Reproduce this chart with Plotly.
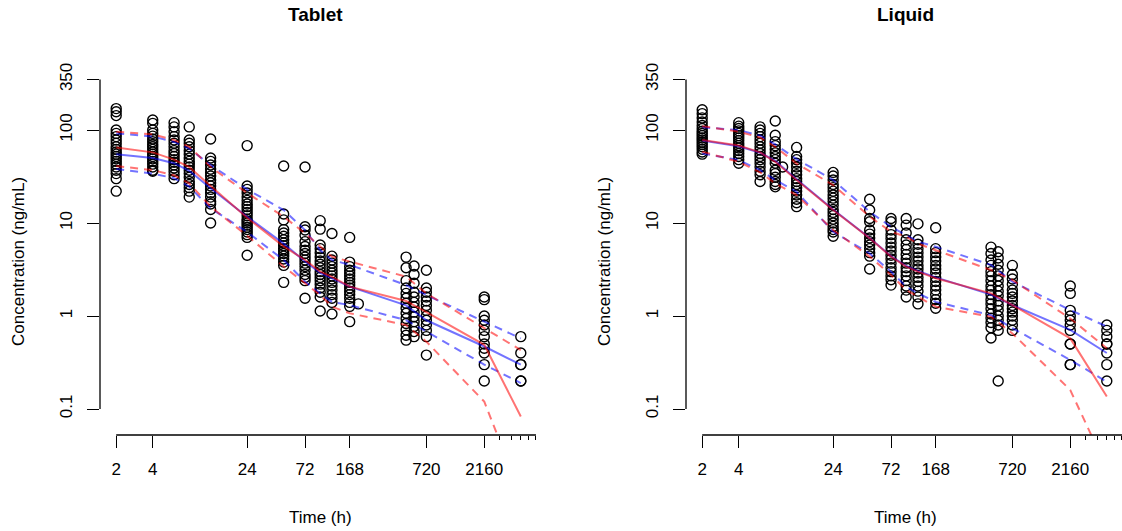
import math
import plotly.graph_objects as go

# ---------------- Data ----------------
# Tablet: observed concentrations (ng/mL) per sampling time (h)
tablet_obs_time = [2, 4, 6, 8, 12, 24, 48, 72, 96, 120, 168, 198, 490, 570, 720, 2160, 4320]
tablet_obs_conc = [
    [170, 157, 143, 100, 92, 85, 78, 72, 66, 62, 58, 55, 52, 49, 46, 43, 40, 37, 34, 30, 22],
    [128, 118, 100, 92, 86, 80, 75, 70, 66, 62, 58, 55, 52, 49, 46, 43, 40, 37, 36],
    [120, 108, 96, 85, 78, 72, 66, 60, 56, 52, 48, 45, 42, 39, 36, 33, 30],
    [108, 78, 72, 66, 60, 55, 50, 46, 43, 40, 37, 34, 31, 28, 26, 24, 22, 19],
    [80, 50, 46, 42, 38, 35, 32, 29, 27, 25, 23, 21, 19, 17, 16, 14, 10],
    [68, 25, 23, 21, 19, 17.5, 16, 15, 14, 13, 12, 11, 10.5, 10, 9.5, 9, 8.5, 8, 7.5, 7, 4.5],
    [41, 12.5, 10.8, 8.5, 7.8, 7.2, 6.6, 6.1, 5.7, 5.3, 5, 4.7, 4.4, 4.1, 3.8, 3.5, 2.3],
    [40, 9.1, 8.4, 7.4, 6.3, 5.6, 5.1, 4.7, 4.3, 4, 3.7, 3.4, 3.1, 2.8, 2.6, 2.4, 1.55],
    [10.6, 8.6, 5.8, 5.3, 4.8, 4.3, 3.9, 3.6, 3.3, 3, 2.8, 2.6, 2.4, 2.2, 2, 1.8, 1.6, 1.13],
    [7.7, 4.4, 4, 3.7, 3.4, 3.1, 2.9, 2.7, 2.5, 2.3, 2.1, 1.9, 1.7, 1.55, 1.4, 1.05],
    [7, 3.8, 3.4, 3.1, 2.9, 2.7, 2.5, 2.3, 2.15, 2, 1.85, 1.7, 1.55, 1.4, 1.27, 0.87],
    [1.35],
    [4.3, 3.3, 2.4, 2.0, 1.75, 1.55, 1.37, 1.21, 1.07, 0.94, 0.83, 0.71, 0.62, 0.55],
    [3.45, 2.8, 2.25, 1.8, 1.6, 1.4, 1.25, 1.1, 0.98, 0.87, 0.77, 0.68, 0.6],
    [3.1, 2.0, 1.8, 1.6, 1.45, 1.3, 1.15, 1.0, 0.9, 0.8, 0.7, 0.6, 0.38],
    [1.6, 1.5, 1.0, 0.9, 0.8, 0.7, 0.6, 0.5, 0.45, 0.4, 0.3, 0.2],
    [0.6, 0.4, 0.3, 0.3, 0.2, 0.2],
]

# Liquid: observed concentrations
liquid_obs_time = [2, 4, 6, 8, 9.2, 12, 24, 48, 72, 96, 120, 168, 480, 550, 720, 2160, 4320]
liquid_obs_conc = [
    [165, 150, 135, 122, 112, 104, 97, 92, 87, 82, 78, 74, 70, 66, 62, 58, 55],
    [120, 110, 104, 98, 92, 87, 82, 77, 72, 68, 64, 60, 56, 52, 48, 44],
    [108, 100, 92, 85, 78, 72, 66, 61, 56, 52, 48, 44, 40, 36, 33, 28],
    [125, 88, 75, 68, 62, 57, 52, 48, 44, 37, 34, 31, 28, 26, 24.5],
    [40],
    [65, 52, 48, 44, 40, 36, 33, 30, 28, 26, 24, 22, 20, 18, 16.5, 15],
    [35, 32, 29, 26, 24, 22, 20, 18.5, 17, 15.5, 14, 13, 12, 11, 10, 9.2, 8.5, 8, 7.2],
    [18, 13.8, 11.2, 10.3, 8.4, 7.6, 6.9, 6.3, 5.8, 5.3, 4.8, 4.4, 3.2],
    [11.2, 10.3, 8.4, 7.5, 6.8, 6.1, 5.5, 5.0, 4.5, 4.1, 3.7, 3.3, 3.0, 2.7, 2.45, 2.15],
    [11.2, 9.5, 7.8, 6.6, 5.8, 5.2, 4.6, 4.1, 3.7, 3.3, 3.0, 2.7, 2.4, 2.1, 1.9, 1.6],
    [9.8, 6.6, 5.9, 5.3, 4.8, 4.3, 3.9, 3.5, 3.2, 2.9, 2.6, 2.35, 2.1, 1.85, 1.6, 1.35],
    [8.9, 5.3, 4.8, 4.3, 3.9, 3.5, 3.2, 2.9, 2.6, 2.35, 2.1, 1.9, 1.7, 1.5, 1.37, 1.21],
    [5.5, 4.7, 4.0, 3.5, 3.0, 2.7, 2.4, 2.1, 1.9, 1.7, 1.5, 1.35, 1.2, 1.05, 0.95, 0.85, 0.75, 0.58],
    [4.9, 4.2, 3.6, 3.1, 2.7, 2.4, 2.1, 1.85, 1.65, 1.45, 1.3, 1.15, 1.0, 0.9, 0.8, 0.7, 0.2],
    [3.5, 2.8, 2.5, 2.2, 1.9, 1.75, 1.6, 1.45, 1.3, 1.2, 1.1, 1.0, 0.9, 0.8, 0.7],
    [2.1, 1.75, 1.15, 1.0, 0.9, 0.8, 0.7, 0.5, 0.5, 0.3, 0.3],
    [0.8, 0.7, 0.6, 0.5, 0.5, 0.4, 0.3, 0.2],
]

# Summary curves (median and 5th/95th percentiles)
tablet_line_time = [2, 4, 6, 8, 12, 24, 48, 72, 96, 120, 168, 490, 720, 2160, 4320]
tablet_obs_med = [65, 57.5, 48, 40, 25, 11.4, 5.6, 4.0, 3.0, 2.64, 2.07, 1.45, 1.1, 0.49, 0.083]
tablet_pred_med = [55, 50, 44, 36.5, 23.6, 11.7, 6.0, 3.85, 2.9, 2.55, 2.07, 1.3, 0.9, 0.47, 0.30]
tablet_obs_hi = [96, 90, 78, 66, 40, 21, 11.7, 7.75, 5.6, 4.35, 3.85, 2.65, 1.75, 0.74, 0.43]
tablet_pred_hi = [92, 85, 74.5, 63, 42, 23, 13.8, 8.4, 5.1, 4.0, 3.55, 2.15, 1.68, 0.87, 0.575]
tablet_obs_lo = [41, 37, 32.6, 26.7, 15, 7.3, 3.4, 2.24, 1.68, 1.26, 1.07, 0.8, 0.53, 0.12, 0.012]
tablet_pred_lo = [38, 34, 30.3, 24.6, 14.4, 8.0, 4.0, 2.34, 1.75, 1.42, 1.31, 0.9, 0.68, 0.30, 0.19]

liquid_line_time = [2, 4, 6, 8, 12, 24, 48, 72, 96, 120, 168, 480, 720, 2160, 4320]
liquid_obs_med = [78, 68, 57.5, 45.5, 29, 13.8, 6.85, 4.35, 3.4, 3.0, 2.55, 1.75, 1.31, 0.575, 0.136]
liquid_pred_med = [77, 67, 57, 46.5, 29.5, 14.0, 6.9, 4.4, 3.45, 3.05, 2.6, 1.7, 1.31, 0.71, 0.40]
liquid_obs_hi = [110, 96, 83, 66, 43.6, 25.6, 11.7, 8.06, 7.1, 6.0, 5.1, 3.12, 2.44, 0.94, 0.45]
liquid_pred_hi = [107, 100, 87, 70, 48.6, 29, 13.2, 9.1, 7.4, 6.3, 5.56, 3.54, 2.34, 1.16, 0.77]
liquid_obs_lo = [58.5, 45.5, 35, 26.7, 20, 8.4, 4.35, 2.76, 1.9, 1.61, 1.26, 0.98, 0.65, 0.16, 0.023]
liquid_pred_lo = [56, 47.6, 37, 29, 21.7, 8.06, 4.7, 3.0, 2.07, 1.75, 1.42, 1.02, 0.74, 0.337, 0.196]

x_tick_vals = [2, 4, 24, 72, 168, 720, 2160]
x_tick_text = ["2", "4", "24", "72", "168", "720", "2160"]
x_minor_vals = [2880, 3600, 4320, 5040, 5760]
y_tick_vals = [0.1, 1, 10, 100, 350]
y_tick_text = ["0.1", "1", "10", "100", "350"]
panel_titles = ["Tablet", "Liquid"]

# ---------------- Styling / layout constants ----------------
W, H = 1122, 531
FONT = "Liberation Sans, Arial, sans-serif"
RED = "rgba(255,0,0,0.55)"
BLUE = "rgba(0,0,255,0.55)"
DASH = "8px,6px"
TXT = 17

# pixel geometry of the two plot regions
panels = [
    dict(left=100, right=537),
    dict(left=686, right=1122),
]
top_px, bottom_px = 60, 435
xr0 = math.log10(2) - 0.1335
px_per_dec_x = (537 - 100) / (math.log10(4320) + 0.1335 - xr0)
y_lo = -1.2796
y_hi = 2.753

fig = go.Figure()

datasets = [
    (tablet_obs_time, tablet_obs_conc, tablet_line_time,
     tablet_obs_med, tablet_pred_med, tablet_obs_hi, tablet_pred_hi, tablet_obs_lo, tablet_pred_lo),
    (liquid_obs_time, liquid_obs_conc, liquid_line_time,
     liquid_obs_med, liquid_pred_med, liquid_obs_hi, liquid_pred_hi, liquid_obs_lo, liquid_pred_lo),
]

for i, (ot, oc, lt, om, pm, oh, ph, ol, pl) in enumerate(datasets):
    xa = "x" if i == 0 else "x2"
    ya = "y" if i == 0 else "y2"
    xs, ys = [], []
    for t, vals in zip(ot, oc):
        xs += [t] * len(vals)
        ys += vals
    fig.add_trace(go.Scatter(
        x=xs, y=ys, mode="markers", xaxis=xa, yaxis=ya, showlegend=False,
        marker=dict(symbol="circle-open", size=10, color="black", line=dict(width=1.4, color="black")),
    ))
    for vals, col, dash in [(ph, BLUE, DASH), (pl, BLUE, DASH), (pm, BLUE, "solid"),
                            (oh, RED, DASH), (ol, RED, DASH), (om, RED, "solid")]:
        fig.add_trace(go.Scatter(
            x=lt, y=vals, mode="lines", xaxis=xa, yaxis=ya, showlegend=False,
            line=dict(color=col, width=2, dash=dash),
        ))

axis_common = dict(showgrid=False, zeroline=False, showline=False, ticks="outside",
                   ticklen=12, tickwidth=1.3, tickcolor="black",
                   tickfont=dict(family=FONT, size=TXT, color="black"))

for i, p in enumerate(panels):
    sfx = "" if i == 0 else "2"
    x_right_val = xr0 + (p["right"] - p["left"]) / px_per_dec_x
    fig.layout["xaxis" + sfx] = dict(
        type="log", range=[xr0, x_right_val], domain=[p["left"] / W, p["right"] / W],
        anchor="y" + sfx, tickmode="array", tickvals=x_tick_vals, ticktext=x_tick_text,
        ticklabelstandoff=7,
        minor=dict(tickmode="array", tickvals=x_minor_vals, ticks="outside", ticklen=4,
                   tickwidth=1.3, tickcolor="black", showgrid=False),
        **axis_common)
    fig.layout["yaxis" + sfx] = dict(
        type="log", range=[y_lo, y_hi], domain=[1 - bottom_px / H, 1 - top_px / H],
        anchor="x" + sfx, tickmode="array", tickvals=y_tick_vals, ticktext=y_tick_text,
        tickangle=-90, ticklabelstandoff=8, **axis_common)
    # R-style axis lines spanning first to last tick
    fig.add_shape(type="line", xref="x" + sfx, yref="y" + sfx + " domain",
                  x0=2, x1=5760, y0=0, y1=0, line=dict(color="black", width=1.3))
    fig.add_shape(type="line", xref="x" + sfx + " domain", yref="y" + sfx,
                  x0=0, x1=0, y0=0.1, y1=350, line=dict(color="black", width=1.3))

title_x = [315, 905]
xlabel_x = [320, 905]
ylabel_x = [18, 604]
for i in range(2):
    fig.add_annotation(text="<b>" + panel_titles[i] + "</b>", xref="paper", yref="paper",
                       x=title_x[i] / W, y=1 - 15 / H, showarrow=False,
                       font=dict(family=FONT, size=19, color="black"), xanchor="center", yanchor="middle")
    fig.add_annotation(text="Time (h)", xref="paper", yref="paper",
                       x=xlabel_x[i] / W, y=1 - 517 / H, showarrow=False,
                       font=dict(family=FONT, size=TXT, color="black"), xanchor="center", yanchor="middle")
    fig.add_annotation(text="Concentration (ng/mL)", xref="paper", yref="paper", textangle=-90,
                       x=ylabel_x[i] / W, y=1 - 262 / H, showarrow=False,
                       font=dict(family=FONT, size=TXT, color="black"), xanchor="center", yanchor="middle")

fig.update_layout(width=W, height=H, autosize=False, margin=dict(l=0, r=0, t=0, b=0),
                  plot_bgcolor="white", paper_bgcolor="white", showlegend=False)

fig.write_html("out.html")
